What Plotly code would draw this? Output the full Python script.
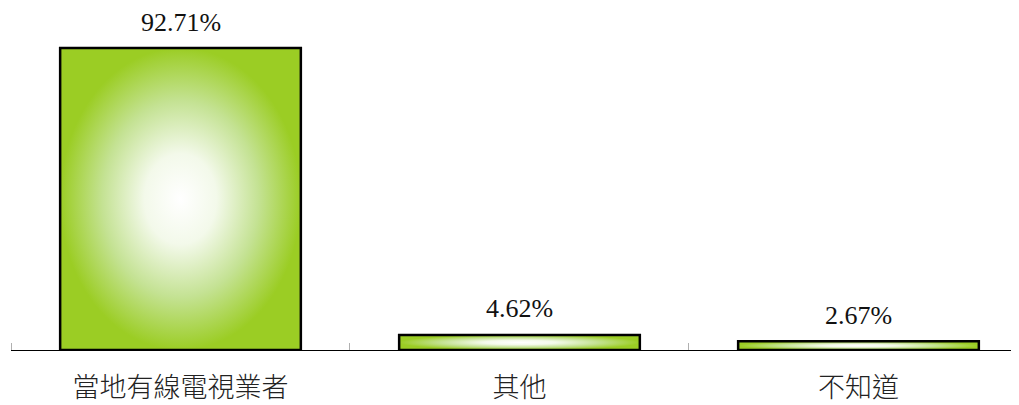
import plotly.graph_objects as go

CATEGORIES = ["當地有線電視業者", "其他", "不知道"]
VALUES = [92.71, 4.62, 2.67]
LABELS = ["92.71%", "4.62%", "2.67%"]

GREEN = "#9bcd24"
HALF = 0.355  # half bar width, in category units
SERIF = "Liberation Serif, Times New Roman, serif"
CJK = "Noto Sans CJK TC, Noto Sans CJK JP, sans-serif"

# the page body keeps its default 8px margin, so the figure is 8px smaller
fig = go.Figure()
for i, v in enumerate(VALUES):
    fig.add_trace(go.Scatter(
        x=[i - HALF, i + HALF, i + HALF, i - HALF, i - HALF],
        y=[0, 0, v, v, 0],
        mode="lines", fill="toself",
        fillgradient=dict(type="radial",
                          colorscale=[[0, "#ffffff"], [0.3, "#f3f9ea"],
                                      [0.65, "#c4e293"], [1, GREEN]]),
        line=dict(color="#000000", width=2.5),
        hoverinfo="skip", showlegend=False))
    fig.add_annotation(x=i, y=v, text=LABELS[i], showarrow=False,
                       yanchor="middle", yshift=26,
                       font=dict(family=SERIF, size=26, color="#111111"))

fig.update_xaxes(
    range=[-0.5, 2.4735], showgrid=False, zeroline=False, automargin=False,
    showline=True, linecolor="#000000", linewidth=1,
    tickvals=[0, 1, 2], ticktext=CATEGORIES, ticks="",
    ticklabelstandoff=14,
    tickfont=dict(family=CJK, size=27, color="#222222", weight=300),
    minor=dict(tickvals=[-0.5, 0.5, 1.5, 2.5], ticks="inside",
               ticklen=7, tickcolor="#b0b0b0", tickwidth=1, showgrid=False),
)
fig.update_yaxes(range=[0, 104.99], visible=False)
fig.update_layout(
    width=1011, height=397,
    margin=dict(l=3, r=0, t=0, b=55),
    paper_bgcolor="#ffffff", plot_bgcolor="#ffffff",
)
fig.write_html("out.html")
